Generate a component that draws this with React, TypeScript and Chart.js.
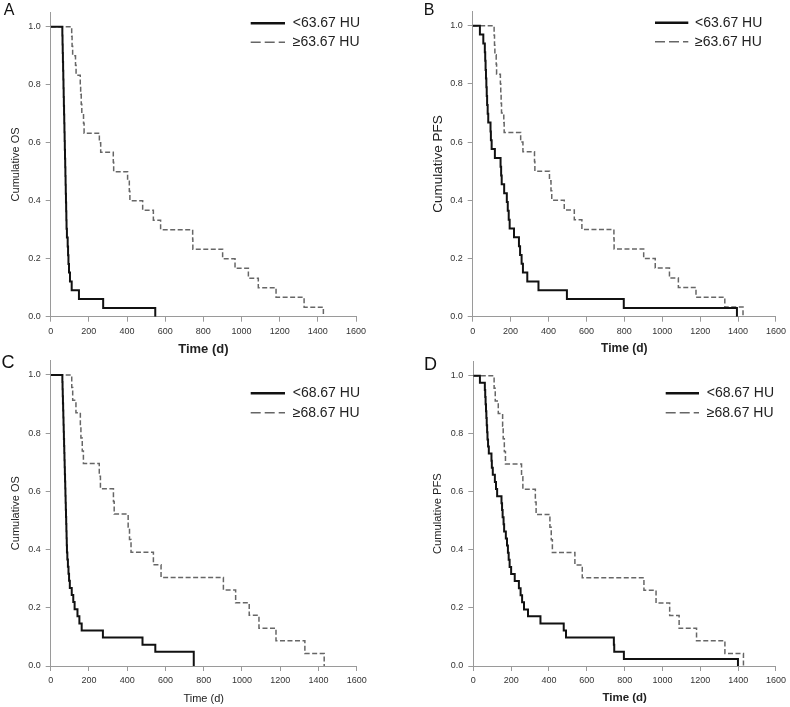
import React, { useEffect, useRef } from "react";
import { Chart, registerables } from "chart.js";

Chart.register(...registerables);

// ---------- tick labels ----------
const xTickValues = [0, 200, 400, 600, 800, 1000, 1200, 1400, 1600];
const yTickValues = [0, 0.2, 0.4, 0.6, 0.8, 1.0];

// ---------- Panel A : Cumulative OS, cut-off 63.67 HU ----------
const aLowTime = [0, 61, 62, 63, 64, 65, 66, 67, 68, 69, 70, 71, 72, 73, 74, 75, 76, 77, 78, 79, 80, 81, 82, 83, 85, 89, 91, 93, 96, 101, 110, 148, 275, 548];
const aLowSurv = [1, 0.970, 0.939, 0.909, 0.879, 0.848, 0.818, 0.788, 0.758, 0.727, 0.697, 0.667, 0.636, 0.606, 0.576, 0.545, 0.515, 0.485, 0.455, 0.424, 0.394, 0.364, 0.333, 0.303, 0.273, 0.242, 0.212, 0.182, 0.152, 0.121, 0.091, 0.061, 0.030, 0];
const aHighTime = [0, 110, 112, 115, 130, 133, 155, 157, 160, 163, 172, 175, 255, 262, 328, 330, 403, 412, 415, 482, 538, 576, 744, 745, 901, 966, 1036, 1088, 1181, 1328, 1429];
const aHighSurv = [1, 0.967, 0.933, 0.900, 0.867, 0.833, 0.800, 0.767, 0.733, 0.700, 0.667, 0.633, 0.600, 0.567, 0.533, 0.500, 0.467, 0.433, 0.400, 0.367, 0.333, 0.300, 0.267, 0.233, 0.200, 0.167, 0.133, 0.100, 0.067, 0.033, 0];

// ---------- Panel B : Cumulative PFS, cut-off 63.67 HU ----------
const bLowTime = [0, 38, 56, 64, 66, 68, 70, 72, 74, 76, 79, 82, 94, 96, 100, 117, 147, 150, 153, 166, 180, 185, 190, 195, 218, 244, 250, 258, 265, 288, 347, 497, 797, 1394];
const bLowSurv = [1, 0.970, 0.939, 0.909, 0.879, 0.848, 0.818, 0.788, 0.758, 0.727, 0.697, 0.667, 0.636, 0.606, 0.576, 0.545, 0.515, 0.485, 0.455, 0.424, 0.394, 0.364, 0.333, 0.303, 0.273, 0.242, 0.212, 0.182, 0.152, 0.121, 0.091, 0.061, 0.030, 0];
const bHighTime = [0, 113, 115, 117, 124, 126, 146, 148, 150, 152, 164, 166, 253, 265, 326, 328, 405, 413, 417, 483, 536, 576, 745, 746, 902, 963, 1038, 1085, 1178, 1330, 1426];
const bHighSurv = [1, 0.967, 0.933, 0.900, 0.867, 0.833, 0.800, 0.767, 0.733, 0.700, 0.667, 0.633, 0.600, 0.567, 0.533, 0.500, 0.467, 0.433, 0.400, 0.367, 0.333, 0.300, 0.267, 0.233, 0.200, 0.167, 0.133, 0.100, 0.067, 0.033, 0];

// ---------- Panel C : Cumulative OS, cut-off 68.67 HU ----------
const cLowTime = [0, 61, 62, 63, 64, 65, 66, 67, 68, 69, 70, 71, 72, 73, 74, 75, 76, 77, 78, 79, 80, 81, 82, 83, 84, 85, 87, 90, 93, 96, 100, 110, 118, 125, 140, 150, 162, 273, 480, 547, 748];
const cLowSurv = [1, 0.976, 0.951, 0.927, 0.902, 0.878, 0.854, 0.829, 0.805, 0.780, 0.756, 0.732, 0.707, 0.683, 0.659, 0.634, 0.610, 0.585, 0.561, 0.537, 0.512, 0.488, 0.463, 0.439, 0.415, 0.390, 0.366, 0.341, 0.317, 0.293, 0.268, 0.244, 0.220, 0.195, 0.171, 0.146, 0.122, 0.098, 0.073, 0.049, 0];
const cHighTime = [0, 110, 115, 132, 155, 158, 165, 171, 254, 260, 328, 332, 405, 412, 420, 537, 577, 903, 967, 1038, 1089, 1178, 1329, 1430];
const cHighSurv = [1, 0.957, 0.913, 0.870, 0.826, 0.783, 0.739, 0.696, 0.652, 0.609, 0.565, 0.522, 0.478, 0.435, 0.391, 0.348, 0.304, 0.261, 0.217, 0.174, 0.130, 0.087, 0.043, 0];

// ---------- Panel D : Cumulative PFS, cut-off 68.67 HU ----------
const dLowTime = [0, 35, 61, 63, 65, 67, 69, 71, 73, 75, 78, 82, 96, 98, 103, 114, 120, 126, 149, 152, 155, 160, 163, 172, 178, 183, 187, 192, 200, 219, 241, 250, 258, 268, 289, 355, 478, 490, 743, 745, 796, 1399];
const dLowSurv = [1, 0.976, 0.951, 0.927, 0.902, 0.878, 0.854, 0.829, 0.805, 0.780, 0.756, 0.732, 0.707, 0.683, 0.659, 0.634, 0.610, 0.585, 0.561, 0.537, 0.512, 0.488, 0.463, 0.439, 0.415, 0.390, 0.366, 0.341, 0.317, 0.293, 0.268, 0.244, 0.220, 0.195, 0.171, 0.146, 0.122, 0.098, 0.073, 0.049, 0.024, 0];
const dHighTime = [0, 110, 116, 132, 155, 158, 164, 170, 255, 262, 328, 332, 405, 412, 418, 537, 576, 902, 966, 1038, 1088, 1180, 1330, 1428];
const dHighSurv = [1, 0.957, 0.913, 0.870, 0.826, 0.783, 0.739, 0.696, 0.652, 0.609, 0.565, 0.522, 0.478, 0.435, 0.391, 0.348, 0.304, 0.261, 0.217, 0.174, 0.130, 0.087, 0.043, 0];

const FONT = '"Liberation Sans", Arial, Helvetica, sans-serif';

type Panel = {
  letter: string;
  letterX: number;
  letterY: number;
  letterSize: number;
  left: number;
  top: number;
  width: number;
  height: number;
  plotLeft: number;
  plotRight: number;
  plotTop: number;
  plotBottom: number;
  yTitle: string;
  yTitleSize: number;
  yTitleCenter: number;
  xTitleSize: number;
  xTitleBold: boolean;
  xTitleCenter: number;
  lowLabel: string;
  highLabel: string;
  legX1: number;
  legX2: number;
  legTX: number;
  legY1: number;
  legY2: number;
  lowT: number[];
  lowS: number[];
  highT: number[];
  highS: number[];
};

const panels: Panel[] = [
  {
    letter: "A", letterX: 9, letterY: 11, letterSize: 16,
    left: 0, top: 0, width: 395, height: 362,
    plotLeft: 50.7, plotRight: 356, plotTop: 12.2, plotBottom: 316.7,
    yTitle: "Cumulative OS", yTitleSize: 11, yTitleCenter: 16,
    xTitleSize: 13, xTitleBold: true, xTitleCenter: 349,
    lowLabel: "<63.67 HU", highLabel: "\u226563.67 HU",
    legX1: 250.7, legX2: 285, legTX: 292.7, legY1: 23.3, legY2: 42.3,
    lowT: aLowTime, lowS: aLowSurv, highT: aHighTime, highS: aHighSurv,
  },
  {
    letter: "B", letterX: 34, letterY: 11, letterSize: 16,
    left: 395, top: 0, width: 395, height: 362,
    plotLeft: 77.7, plotRight: 383.3, plotTop: 11.1, plotBottom: 316.7,
    yTitle: "Cumulative PFS", yTitleSize: 13.5, yTitleCenter: 43.3,
    xTitleSize: 12, xTitleBold: true, xTitleCenter: 349,
    lowLabel: "<63.67 HU", highLabel: "\u226563.67 HU",
    legX1: 260, legX2: 293.3, legTX: 300, legY1: 22.7, legY2: 41.7,
    lowT: bLowTime, lowS: bLowSurv, highT: bHighTime, highS: bHighSurv,
  },
  {
    letter: "C", letterX: 8, letterY: 13, letterSize: 18,
    left: 0, top: 350, width: 395, height: 357,
    plotLeft: 50.7, plotRight: 356.7, plotTop: 10.4, plotBottom: 316,
    yTitle: "Cumulative OS", yTitleSize: 11, yTitleCenter: 16,
    xTitleSize: 11, xTitleBold: false, xTitleCenter: 349.3,
    lowLabel: "<68.67 HU", highLabel: "\u226568.67 HU",
    legX1: 250.7, legX2: 285, legTX: 292.7, legY1: 43.3, legY2: 62.7,
    lowT: cLowTime, lowS: cLowSurv, highT: cHighTime, highS: cHighSurv,
  },
  {
    letter: "D", letterX: 35.5, letterY: 15, letterSize: 18,
    left: 395, top: 350, width: 395, height: 357,
    plotLeft: 78.3, plotRight: 383.3, plotTop: 11.2, plotBottom: 316,
    yTitle: "Cumulative PFS", yTitleSize: 11.2, yTitleCenter: 43.3,
    xTitleSize: 11.5, xTitleBold: true, xTitleCenter: 348.3,
    lowLabel: "<68.67 HU", highLabel: "\u226568.67 HU",
    legX1: 270.7, legX2: 304, legTX: 311.7, legY1: 43.3, legY2: 62.7,
    lowT: dLowTime, lowS: dLowSurv, highT: dHighTime, highS: dHighSurv,
  },
];

const SOLID = "#111111";
const DASHED = "#666666";
const AXIS = "#9a9a9a";

function KMChart({ p }: { p: Panel }) {
  const ref = useRef<HTMLCanvasElement | null>(null);

  useEffect(() => {
    const canvas = ref.current;
    if (!canvas) return;
    const toPts = (t: number[], s: number[]) => t.map((x, i) => ({ x, y: s[i] }));
    const yW = p.plotLeft;
    const xH = p.height - p.plotBottom;

    const decor = {
      id: "kmDecor" + p.letter,
      afterDraw(chart: any) {
        const ctx = chart.ctx as CanvasRenderingContext2D;
        ctx.save();
        // panel letter
        ctx.fillStyle = "#111";
        ctx.font = `${p.letterSize}px ${FONT}`;
        ctx.textAlign = "center";
        ctx.textBaseline = "middle";
        ctx.fillText(p.letter, p.letterX, p.letterY);
        // legend
        ctx.lineCap = "butt";
        ctx.strokeStyle = SOLID;
        ctx.lineWidth = 2.5;
        ctx.setLineDash([]);
        ctx.beginPath();
        ctx.moveTo(p.legX1, p.legY1);
        ctx.lineTo(p.legX2, p.legY1);
        ctx.stroke();
        ctx.strokeStyle = DASHED;
        ctx.lineWidth = 1.6;
        ctx.setLineDash([10, 4]);
        ctx.beginPath();
        ctx.moveTo(p.legX1, p.legY2);
        ctx.lineTo(p.legX2, p.legY2);
        ctx.stroke();
        ctx.setLineDash([]);
        ctx.fillStyle = "#222";
        ctx.font = `14px ${FONT}`;
        ctx.textAlign = "left";
        ctx.fillText(p.lowLabel, p.legTX, p.legY1);
        ctx.fillText(p.highLabel, p.legTX, p.legY2);
        ctx.restore();
      },
    };

    const tickFont = { family: FONT, size: 9 };
    const chart = new Chart(canvas, {
      type: "line",
      data: {
        datasets: [
          {
            label: p.lowLabel,
            data: toPts(p.lowT, p.lowS),
            borderColor: SOLID,
            borderWidth: 2,
            stepped: "before",
            pointRadius: 0,
            fill: false,
          },
          {
            label: p.highLabel,
            data: toPts(p.highT, p.highS),
            borderColor: DASHED,
            borderWidth: 1.5,
            borderDash: [5, 2.5],
            stepped: "before",
            pointRadius: 0,
            fill: false,
          },
        ],
      },
      options: {
        responsive: false,
        animation: false,
        events: [],
        layout: {
          padding: { left: 0, top: p.plotTop, right: p.width - p.plotRight, bottom: 0 },
        },
        plugins: {
          legend: { display: false },
          tooltip: { enabled: false },
          title: { display: false },
        },
        scales: {
          x: {
            type: "linear",
            min: 0,
            max: 1600,
            afterFit: (s: any) => {
              s.height = xH;
            },
            afterBuildTicks: (s: any) => {
              s.ticks = xTickValues.map((v) => ({ value: v }));
            },
            ticks: {
              autoSkip: false,
              maxRotation: 0,
              minRotation: 0,
              padding: 4,
              color: "#333",
              font: tickFont,
              callback: (v: any) => String(v),
            },
            grid: {
              display: true,
              drawOnChartArea: false,
              drawTicks: true,
              tickLength: 5,
              color: AXIS,
              lineWidth: 1,
            },
            border: { display: true, color: AXIS, width: 1 },
            title: {
              display: true,
              text: "Time (d)",
              color: "#222",
              font: { family: FONT, size: p.xTitleSize, weight: p.xTitleBold ? "bold" : "normal", lineHeight: 1 },
              padding: { top: 0, bottom: p.height - p.xTitleCenter - p.xTitleSize / 2 },
            },
          },
          y: {
            type: "linear",
            min: 0,
            max: 1.05,
            afterFit: (s: any) => {
              s.width = yW;
            },
            afterBuildTicks: (s: any) => {
              s.ticks = yTickValues.map((v) => ({ value: v }));
            },
            ticks: {
              padding: 5,
              color: "#333",
              font: tickFont,
              callback: (v: any) => Number(v).toFixed(1),
            },
            grid: {
              display: true,
              drawOnChartArea: false,
              drawTicks: true,
              tickLength: 5,
              color: AXIS,
              lineWidth: 1,
            },
            border: { display: true, color: AXIS, width: 1 },
            title: {
              display: true,
              text: p.yTitle,
              color: "#222",
              font: { family: FONT, size: p.yTitleSize, lineHeight: 1 },
              padding: { top: p.yTitleCenter - p.yTitleSize / 2, bottom: 0 },
            },
          },
        },
      } as any,
      plugins: [decor],
    });
    return () => chart.destroy();
  }, [p]);

  return (
    <canvas
      ref={ref}
      width={p.width}
      height={p.height}
      style={{ position: "absolute", left: p.left, top: p.top, width: p.width, height: p.height }}
    />
  );
}

export default function App() {
  return (
    <div style={{ position: "absolute", left: 0, top: 0, width: 790, height: 707, background: "#fff", overflow: "hidden" }}>
      {panels.map((p) => (
        <KMChart key={p.letter} p={p} />
      ))}
    </div>
  );
}
